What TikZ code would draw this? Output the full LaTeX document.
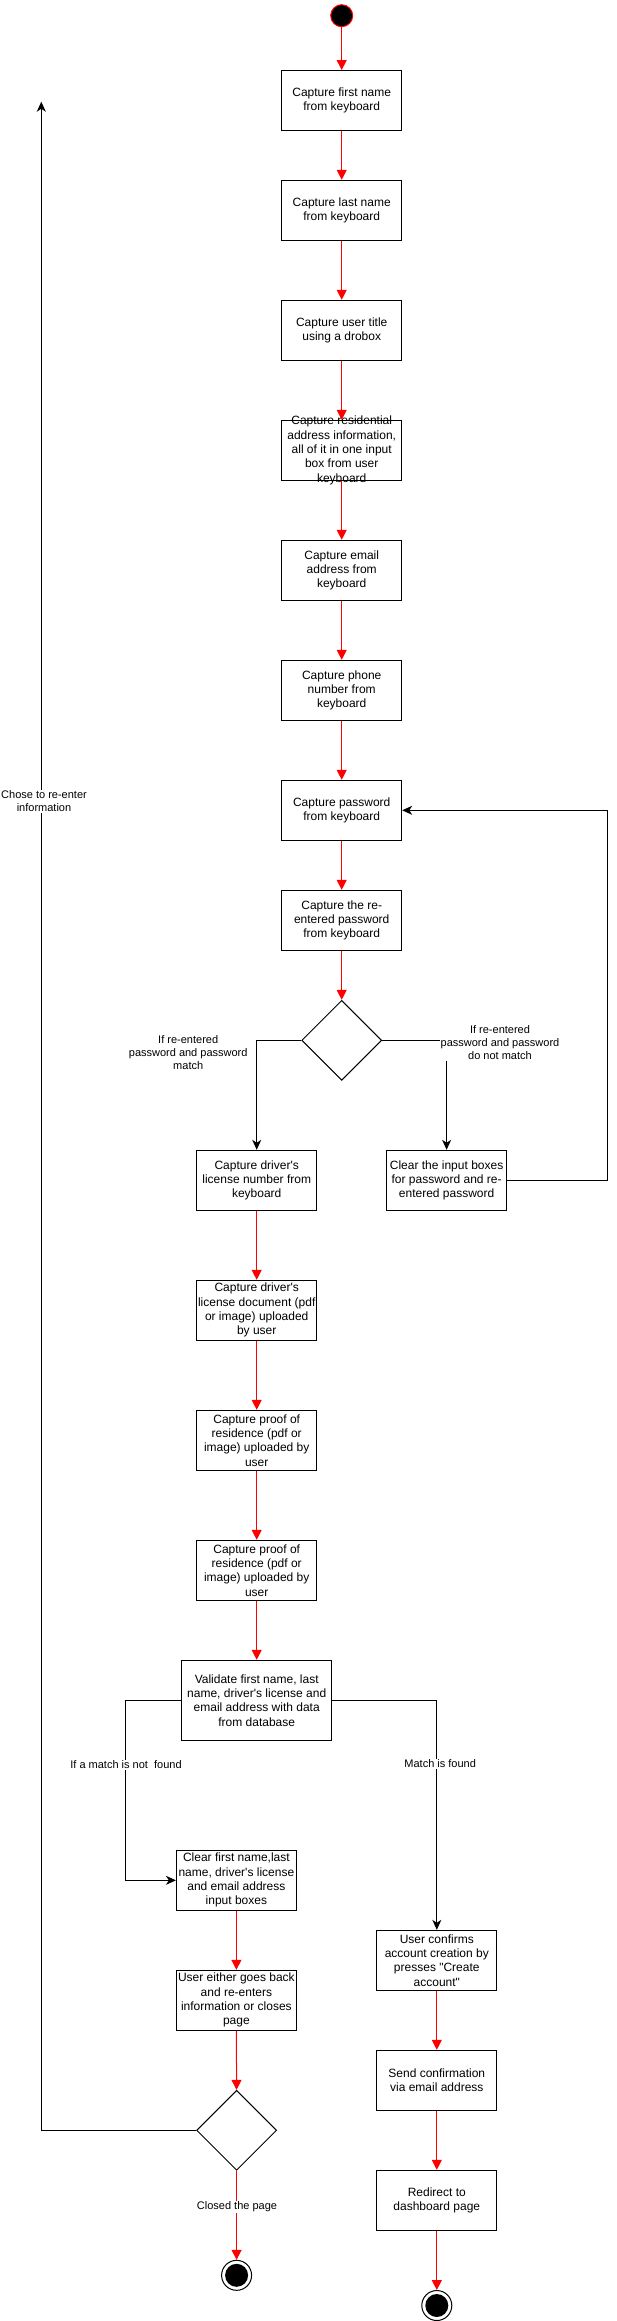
\documentclass[tikz,border=0pt]{standalone}
\usepackage{fontspec}
\setmainfont{Liberation Sans}[Ligatures=TeXOff]
\usepackage{tikz}
\usetikzlibrary{arrows.meta}
\usetikzlibrary{shapes.geometric}
\usepackage{color}
\definecolor{flowred}{RGB}{255, 0, 0}
\newcommand{\boxfont}{\fontsize{12}{14.3}\selectfont}
\newcommand{\lblfont}{\fontsize{11}{13.2}\selectfont}

\begin{document}
\begin{tikzpicture}[x=1pt, y=-1pt, line width=1pt,
    act/.style={rectangle, draw, minimum width=120pt, minimum height=60pt, inner sep=0pt, align=center, font=\boxfont},
    acttext/.style={inner sep=0pt, align=center, font=\boxfont},
    decide/.style={diamond, draw, minimum width=80pt, minimum height=80pt, inner sep=0pt},
    startst/.style={circle, draw=flowred, fill=black, minimum size=22pt, inner sep=0pt},
    endst/.style={circle, draw, fill=white, minimum size=30pt, inner sep=0pt,
        label={[circle, fill=black, minimum size=23pt, inner sep=0pt]center:{}}},
    flow/.style={draw=flowred, -{Triangle[width=10pt, length=10pt]}},
    branch/.style={draw=black, -{Stealth[width=9pt, length=10pt, inset=3pt]}},
    lbl/.style={fill=white, inner sep=1pt, align=center, font=\lblfont}]
            \useasboundingbox (0, 0) rectangle (617, 2321);
            % Personal details
            \node[startst]                (start) at (341.7,   15.7) {};
            \node[act]                    (b1)    at (341.7,  100.5) {Capture first name\\from keyboard};
            \node[act]                    (b2)    at (341.7,  210.3) {Capture last name\\from keyboard};
            \node[act]                    (b3)    at (341.7,  330.3) {Capture user title\\using a drobox};
            \node[act, label={[acttext]center:{Capture residential\\address information,\\all of it in one input\\box from user\\keyboard}}]
                                          (b4)    at (341.7,  450.3) {};
            \node[act]                    (b5)    at (341.7,  570.3) {Capture email\\address from\\keyboard};
            \node[act]                    (b6)    at (341.7,  690.3) {Capture phone\\number from\\keyboard};
            \node[act]                    (b7)    at (341.7,  810.3) {Capture password\\from keyboard};
            \node[act]                    (b8)    at (341.7,  920.3) {Capture the re-\\entered password\\from keyboard};
            \node[decide]                 (d1)    at (341.7, 1040.3) {};
            % Password check
            \node[act]                    (lic)   at (256.7, 1180.3) {Capture driver's\\license number from\\keyboard};
            \node[act]                    (clrpw) at (446.6, 1180.3) {Clear the input boxes\\for password and re-\\entered password};
            \node[act]                    (doc)   at (256.7, 1310.3) {Capture driver's\\license document (pdf\\or image) uploaded\\by user};
            \node[act]                    (res1)  at (256.7, 1440.3) {Capture proof of\\residence (pdf or\\image) uploaded by\\user};
            \node[act]                    (res2)  at (256.7, 1570.3) {Capture proof of\\residence (pdf or\\image) uploaded by\\user};
            \node[act, minimum width=150pt, minimum height=80pt]
                                          (val)   at (256.7, 1700.3) {Validate first name, last\\name, driver's license and\\email address with data\\from database};
            % No match
            \node[act]                    (clr)   at (236.4, 1880.3) {Clear first name,last\\name, driver's license\\and email address\\input boxes};
            \node[act]                    (back)  at (236.4, 2000.3) {User either goes back\\and re-enters\\information or closes\\page};
            \node[decide]                 (d2)    at (236.6, 2130.3) {};
            \node[endst]                  (endL)  at (236.6, 2275.3) {};
            % Match
            \node[act]                    (conf)  at (436.8, 1960.3) {User confirms\\account creation by\\presses "Create\\account"};
            \node[act]                    (mail)  at (436.8, 2080.3) {Send confirmation\\via email address};
            \node[act]                    (dash)  at (436.8, 2200.3) {Redirect to\\dashboard page};
            \node[endst]                  (endR)  at (436.8, 2305.5) {};
            \coordinate                   (again) at ( 41.3,  101.7);
            % Main flow
            \draw[flow] (start) -- (b1);
            \draw[flow] (b1)    -- (b2);
            \draw[flow] (b2)    -- (b3);
            \draw[flow] (b3)    -- (b4);
            \draw[flow] (b4)    -- (b5);
            \draw[flow] (b5)    -- (b6);
            \draw[flow] (b6)    -- (b7);
            \draw[flow] (b7)    -- (b8);
            \draw[flow] (b8)    -- (d1);
            \draw[flow] (lic)   -- (doc);
            \draw[flow] (doc)   -- (res1);
            \draw[flow] (res1)  -- (res2);
            \draw[flow] (res2)  -- (val);
            \draw[flow] (clr)   -- (back);
            \draw[flow] (back)  -- (d2);
            \draw[flow] (d2)    -- (endL);
            \draw[flow] (conf)  -- (mail);
            \draw[flow] (mail)  -- (dash);
            \draw[flow] (dash)  -- (endR);
            % Branches
            \draw[branch] (d1.west)    -| (lic.north);
            \draw[branch] (d1.east)    -| (clrpw.north);
            \draw[branch] (clrpw.east) -- ++(100, 0) |- (b7.east);
            \draw[branch] (val.west)   -- ++(-55.3, 0) |- (clr.west);
            \draw[branch] (val.east)   -| (conf.north);
            \draw[branch] (d2.west)    -- (again |- d2.west) -- (again);
            % Branch labels
            \node[lbl] at (188.2, 1052.3) {If re-entered\\password and password\\match};
            \node[lbl] at (500.0, 1042.3) {If re-entered\\password and password\\do not match};
            \node[lbl] at (126.0, 1765.0) {If a match is not~ found};
            \node[lbl] at (440.2, 1764.0) {Match is found};
            \node[lbl] at (237.0, 2207.0) {Closed the page};
            \node[lbl] at ( 44.0,  801.3) {Chose to re-enter\\information};
        \end{tikzpicture}
\end{document}
